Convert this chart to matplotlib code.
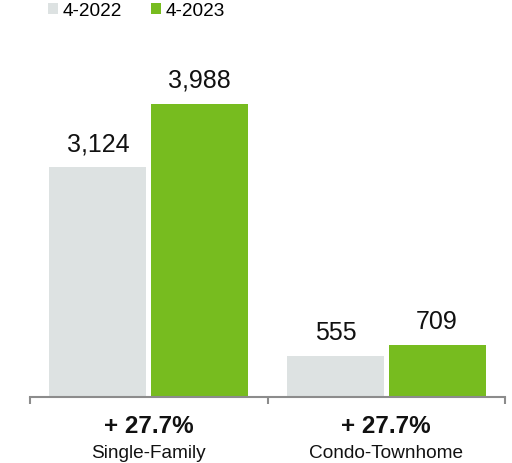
import numpy as np
import matplotlib.pyplot as plt

plt.rcParams['font.family'] = ['Liberation Sans', 'DejaVu Sans']

categories = ["Single-Family", "Condo-Townhome"]
series_names = ["4-2022", "4-2023"]
values_2022 = [3124, 555]
values_2023 = [3988, 709]
pct_change = ["+ 27.7%", "+ 27.7%"]

grey = "#dde2e2"
green = "#77bc1f"
axis_grey = "#8c8c8c"

fig = plt.figure(figsize=(5.12, 4.64), dpi=100)
W, H = 512.0, 464.0
ax = fig.add_axes([30 / W, (H - 398) / H, 475 / W, 338 / H])

x = np.arange(len(categories))
width = 0.408
off = 0.214
b1 = ax.bar(x - off, values_2022, width, color=grey, label=series_names[0])
b2 = ax.bar(x + off, values_2023, width, color=green, label=series_names[1])

for bars, vals in [(b1, values_2022), (b2, values_2023)]:
    for rect, v in zip(bars, vals):
        ax.annotate("{:,}".format(v), (rect.get_x() + rect.get_width() / 2, v),
                    xytext=(0, 17), textcoords="offset pixels",
                    ha="center", va="baseline", fontsize=18, color="#111111")

ax.set_xlim(-0.5, 1.5)
ax.set_ylim(0, 4600)
ax.set_yticks([])
ax.set_xticks([-0.5, 0.5, 1.5])
ax.set_xticklabels([])
ax.tick_params(axis="x", length=5, width=1.5, color=axis_grey, direction="out")
for s in ["top", "right", "left"]:
    ax.spines[s].set_visible(False)
ax.spines["bottom"].set_color(axis_grey)
ax.spines["bottom"].set_linewidth(1.5)

# percent change and category name under each group
for xi, pct, cat in zip(x, pct_change, categories):
    ax.annotate(pct, (xi, 0), xytext=(0, -29), textcoords="offset pixels",
                ha="center", va="center", fontsize=17.5, fontweight="bold",
                color="#111111")
    ax.annotate(cat, (xi, 0), xytext=(0, -56), textcoords="offset pixels",
                ha="center", va="center", fontsize=13.7, color="#111111")

fig.legend(handles=[b1, b2], labels=series_names, loc="center left",
           bbox_to_anchor=(48 / W, (H - 12) / H), ncol=2, frameon=False,
           fontsize=13.7, handlelength=0.5, handleheight=0.5,
           handletextpad=0.25, columnspacing=1.55, borderpad=0, borderaxespad=0)

fig.savefig("out.png", dpi=100)
